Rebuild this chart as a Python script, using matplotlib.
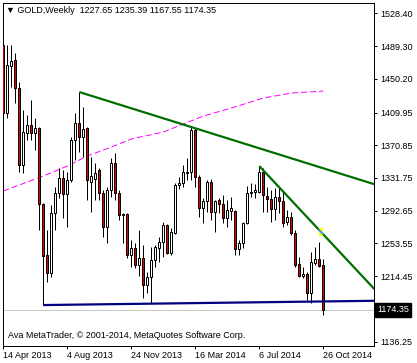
import matplotlib
matplotlib.use("Agg")
import matplotlib.pyplot as plt
from matplotlib.patches import Rectangle
import matplotlib.transforms as mtransforms

# weekly GOLD candles, one per week starting 14 Apr 2013
opens = [1490.5, 1409.3, 1465.5, 1472.6, 1439.2, 1347.2, 1385.4, 1395.0, 1385.4, 1391.4,
         1300.7, 1239.8, 1218.3, 1289.9, 1313.8, 1331.7, 1312.6, 1329.3, 1377.1, 1397.4,
         1380.7, 1391.4, 1326.9, 1330.5, 1341.3, 1313.8, 1273.2, 1317.4, 1349.6, 1313.8,
         1287.5, 1288.7, 1239.8, 1248.1, 1227.8, 1236.2, 1204.0, 1213.5, 1233.8, 1248.1,
         1255.3, 1275.6, 1242.1, 1266.0, 1323.4, 1325.8, 1338.9, 1338.9, 1389.0, 1332.9,
         1295.9, 1304.2, 1326.9, 1291.1, 1305.4, 1300.7, 1284.0, 1292.3, 1292.3, 1246.9,
         1254.1, 1278.0, 1313.8, 1315.0, 1315.0, 1338.9, 1310.2, 1306.6, 1294.7, 1309.0,
         1304.2, 1279.2, 1285.1, 1266.0, 1229.0, 1214.7, 1217.1, 1194.4, 1230.2, 1235.0,
         1227.65]
highs = [1498.9, 1490.5, 1490.5, 1481.0, 1446.4, 1412.9, 1407.0, 1424.9, 1403.4, 1392.6,
         1302.0, 1269.6, 1299.5, 1321.0, 1343.7, 1341.3, 1338.9, 1380.7, 1409.3, 1434.4,
         1416.5, 1392.6, 1356.8, 1349.6, 1343.7, 1317.4, 1321.0, 1355.6, 1361.6, 1317.4,
         1289.9, 1289.9, 1257.7, 1254.1, 1269.6, 1251.7, 1219.5, 1249.3, 1251.7, 1261.2,
         1279.2, 1276.8, 1272.0, 1325.8, 1332.9, 1347.2, 1355.6, 1392.6, 1391.4, 1335.3,
         1307.8, 1329.3, 1330.5, 1305.4, 1307.8, 1311.4, 1305.4, 1309.0, 1293.5, 1257.7,
         1279.2, 1322.2, 1325.8, 1324.6, 1346.0, 1343.7, 1321.0, 1317.4, 1319.8, 1319.8,
         1315.0, 1293.5, 1291.1, 1269.6, 1237.4, 1225.8, 1219.8, 1243.7, 1249.7, 1255.6,
         1235.39]
lows = [1404.6, 1403.4, 1440.4, 1421.3, 1338.9, 1337.7, 1377.1, 1377.1, 1365.2, 1269.6,
        1180.0, 1207.5, 1213.5, 1269.6, 1307.8, 1284.0, 1273.2, 1326.9, 1353.2, 1362.8,
        1356.8, 1305.4, 1291.1, 1305.4, 1305.4, 1261.2, 1254.1, 1309.0, 1305.4, 1281.6,
        1254.1, 1236.2, 1225.4, 1224.2, 1215.0, 1188.4, 1194.4, 1182.4, 1225.4, 1231.4,
        1237.4, 1241.0, 1239.8, 1265.0, 1318.6, 1321.0, 1329.3, 1329.3, 1321.0, 1285.1,
        1278.0, 1291.1, 1281.6, 1267.2, 1289.9, 1278.0, 1273.2, 1281.6, 1239.8, 1239.8,
        1248.1, 1276.8, 1309.0, 1307.8, 1313.8, 1291.1, 1291.1, 1279.2, 1281.6, 1289.9,
        1273.2, 1275.6, 1263.6, 1225.4, 1213.5, 1212.3, 1186.0, 1183.0, 1227.8, 1225.8,
        1167.55]
closes = [1409.3, 1466.7, 1471.4, 1439.2, 1347.2, 1386.6, 1395.0, 1385.4, 1391.4, 1300.7,
          1238.6, 1218.3, 1289.9, 1313.8, 1331.7, 1312.6, 1329.3, 1377.1, 1397.4, 1380.7,
          1390.2, 1329.3, 1334.1, 1337.7, 1313.8, 1273.2, 1317.4, 1349.6, 1313.8, 1287.5,
          1288.7, 1239.8, 1248.1, 1227.8, 1236.2, 1204.0, 1213.5, 1233.8, 1249.3, 1255.3,
          1275.6, 1242.1, 1267.2, 1323.4, 1325.8, 1338.9, 1337.7, 1389.0, 1332.9, 1295.9,
          1304.2, 1326.9, 1291.1, 1304.2, 1300.7, 1284.0, 1293.5, 1295.9, 1246.9, 1254.1,
          1278.0, 1313.8, 1315.0, 1317.4, 1338.9, 1311.4, 1306.6, 1294.7, 1309.0, 1304.2,
          1278.0, 1285.1, 1266.0, 1227.8, 1214.7, 1217.1, 1194.4, 1231.4, 1235.0, 1226.6,
          1174.35]

# moving average read at a few bars
ma_bars = [0, 10, 16, 21, 27, 32, 40, 45, 50, 57, 65, 72, 80]
ma_vals = [1316.2, 1334.1, 1346.0, 1358.0, 1368.7, 1378.3, 1386.6, 1396.2, 1405.7,
           1415.3, 1427.2, 1433.2, 1435.6]

date_bars = [0, 16, 32, 48, 64, 80]
date_labels = ["14 Apr 2013", "4 Aug 2013", "24 Nov 2013", "16 Mar 2014", "6 Jul 2014", "26 Oct 2014"]

price_ticks = [1528.40, 1489.30, 1450.20, 1409.95, 1370.85, 1331.75, 1292.65, 1253.55, 1214.45, 1136.25]
price_labels = ["1528.40", "1489.30", "1450.20", "1409.95", "1370.85", "1331.75", "1292.65",
                "1253.55", "1214.45", "1136.25"]

# trend lines: anchor bars, and the right-edge end prices
upper_anchor = [19, 47]
steep_anchor = 64
steep_end = 1199.2
support_anchor = 10
support_end = 1185.1
marker_bar = 79.4

XMIN, XMAX = -0.15, 92.75
YMIN, YMAX = 1131.1, 1541.1
PX = 0.72  # one pixel in points

plt.rcParams["font.family"] = ["Liberation Sans", "DejaVu Sans"]
fs = 6.5

fig = plt.figure(figsize=(4.17, 3.63), dpi=100)
fig.patch.set_facecolor("white")
ax = fig.add_axes([2.7 / 417, 1 - 346 / 363, (374.3 - 2.7) / 417, (346 - 2.7) / 363])
ax.set_xlim(XMIN, XMAX)
ax.set_ylim(YMIN, YMAX)

# bid line
ax.axhline(closes[-1], color="#c8c8c8", lw=PX, zorder=1)

# moving average
ax.plot(ma_bars, ma_vals, color="#ff00ff", lw=PX, dashes=(6, 3), zorder=1.5)

# candles
ax.vlines(range(len(opens)), lows, highs, color="black", lw=PX, zorder=2)
w = 0.5
for i, (o, c) in enumerate(zip(opens, closes)):
    face = "#e00000" if c < o else "white"
    lo, hi = min(o, c), max(o, c)
    ax.add_patch(Rectangle((i - w / 2, lo), w, hi - lo, facecolor=face,
                           edgecolor="black", lw=PX, zorder=3))

# upper green trend line through two highs, extended right
x0, x1 = upper_anchor
y0, y1 = highs[x0], highs[x1]
slope = (y1 - y0) / (x1 - x0)
ax.plot([x0, XMAX], [y0, y0 + slope * (XMAX - x0)], color="#006e00", lw=1.6, zorder=4,
        solid_capstyle="butt")

# steep green trend line
ax.plot([steep_anchor, XMAX], [highs[steep_anchor], steep_end], color="#006e00", lw=1.6,
        zorder=4, solid_capstyle="butt")
s2 = (steep_end - highs[steep_anchor]) / (XMAX - steep_anchor)
my = highs[steep_anchor] + s2 * (marker_bar - steep_anchor)
ax.add_patch(Rectangle((marker_bar - 0.5, my - 5), 1.0, 10, facecolor="#ffff00",
                       edgecolor="none", zorder=5))
ax.plot([marker_bar - 0.5, marker_bar + 0.5], [my - s2 * 0.5, my + s2 * 0.5],
        color="#1e90ff", lw=1.2, zorder=6)

# support line
ax.plot([support_anchor, XMAX], [lows[support_anchor], support_end], color="#000080",
        lw=1.6, zorder=4, solid_capstyle="butt")

for s in ax.spines.values():
    s.set_color("black")
    s.set_linewidth(PX)

ax.yaxis.tick_right()
ax.set_yticks(price_ticks)
ax.set_yticklabels(price_labels, fontsize=fs)
ax.tick_params(axis="y", direction="out", length=3 * PX, width=PX, pad=2.5)
ax.set_xticks(date_bars)
ax.set_xticklabels(date_labels, fontsize=fs, ha="left")
ax.tick_params(axis="x", direction="out", length=3 * PX, width=PX, pad=1.5)

trans = mtransforms.blended_transform_factory(ax.transAxes, ax.transData)
ax.text(1.007, closes[-1], "%.2f" % closes[-1], transform=trans, fontsize=fs, color="white",
        va="center", ha="left",
        bbox=dict(boxstyle="square,pad=0.25", facecolor="black", edgecolor="black"))

ax.text(0.008, 0.978, "\u25bc GOLD,Weekly  %.2f %.2f %.2f %.2f" % (opens[-1], highs[-1], lows[-1], closes[-1]),
        transform=ax.transAxes, fontsize=fs, va="center", ha="left")
ax.text(0.014, 0.032, "Ava MetaTrader, \u00a9 2001-2014, MetaQuotes Software Corp.",
        transform=ax.transAxes, fontsize=fs, va="center", ha="left")

fig.savefig("out.png", dpi=100, facecolor="white")
